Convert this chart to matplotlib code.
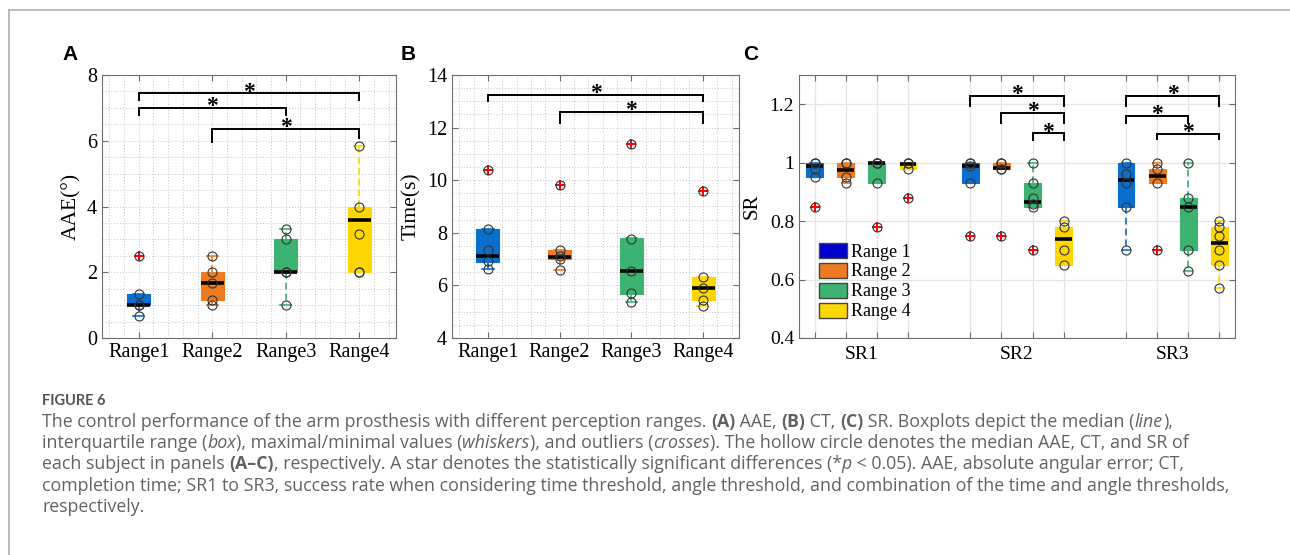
import matplotlib
matplotlib.use('Agg')
import matplotlib.pyplot as plt
import matplotlib.patches as mpatches
from matplotlib.lines import Line2D
from matplotlib.ticker import MultipleLocator, FixedLocator, NullFormatter

SERIF = 'Liberation Serif'

# ---- Panel A: AAE (deg) ----
range_names = ['Range1', 'Range2', 'Range3', 'Range4']
aae_q1 = [0.99, 1.15, 2.0, 2.0]
aae_med = [1.0, 1.67, 2.0, 3.58]
aae_q3 = [1.35, 2.0, 3.0, 4.0]
aae_lo = [0.67, 1.0, 1.0, 2.0]
aae_hi = [1.35, 2.5, 3.33, 5.83]
aae_out = [[2.5], [], [], []]
aae_subj = [[0.67, 1.0, 1.0, 1.35, 2.5], [1.0, 1.17, 1.67, 2.0, 2.5],
            [1.0, 2.0, 2.0, 3.0, 3.33], [2.0, 2.0, 3.17, 4.0, 5.83]]
aae_sig = [(1, 4, 7.44, 0.2, 0.2), (1, 3, 7.0, 0.22, 0.22), (2, 4, 6.35, 0.38, 0.27)]

# ---- Panel B: completion time (s) ----
ct_q1 = [6.9, 7.0, 5.67, 5.43]
ct_med = [7.13, 7.08, 6.53, 5.9]
ct_q3 = [8.13, 7.35, 7.8, 6.33]
ct_lo = [6.63, 6.6, 5.35, 5.2]
ct_hi = [8.13, 7.35, 7.8, 6.33]
ct_out = [[10.37], [9.83], [11.37], [9.58]]
ct_subj = [[6.63, 6.93, 7.35, 8.13, 10.37], [6.6, 7.0, 7.1, 7.33, 9.83],
           [5.35, 5.7, 6.53, 7.78, 11.37], [5.2, 5.45, 5.9, 6.33, 9.58]]
ct_sig = [(1, 4, 13.24, 0.23, 0.23), (2, 4, 12.61, 0.45, 0.45)]

# ---- Panel C: success rate ----
sr_groups = ['SR1', 'SR2', 'SR3']
sr_pos = [1, 2, 3, 4, 6, 7, 8, 9, 11, 12, 13, 14]
sr_q1 = [0.95, 0.95, 0.93, 0.977, 0.93, 0.977, 0.85, 0.65, 0.85, 0.93, 0.70, 0.65]
sr_med = [0.99, 0.975, 1.0, 0.997, 0.99, 0.982, 0.865, 0.74, 0.94, 0.955, 0.85, 0.725]
sr_q3 = [1.0, 1.0, 1.0, 1.0, 1.0, 1.0, 0.93, 0.78, 1.0, 0.98, 0.88, 0.78]
sr_lo = [0.95, 0.93, 0.93, 0.977, 0.93, 0.977, 0.85, 0.65, 0.70, 0.93, 0.63, 0.57]
sr_hi = [1.0, 1.0, 1.0, 1.0, 1.0, 1.0, 1.0, 0.80, 1.0, 1.0, 1.0, 0.80]
sr_out = [[0.85], [], [0.78], [0.88], [0.75], [0.75], [0.70], [], [], [0.70], [], []]
sr_subj = [[0.85, 0.95, 0.98, 1.0, 1.0], [0.93, 0.95, 1.0, 1.0], [0.78, 0.93, 1.0, 1.0, 1.0],
           [0.88, 0.98, 1.0, 1.0], [0.75, 0.93, 0.99, 1.0, 1.0], [0.75, 0.98, 0.98, 1.0, 1.0],
           [0.70, 0.85, 0.86, 0.88, 0.93, 1.0], [0.65, 0.70, 0.78, 0.80],
           [0.70, 0.85, 0.93, 0.96, 1.0], [0.70, 0.93, 0.98, 1.0],
           [0.63, 0.70, 0.85, 0.88, 1.0], [0.57, 0.65, 0.70, 0.75, 0.78, 0.80]]
sr_sig = [(6, 9, 1.229, 0.034, 0.034), (7, 9, 1.171, 0.034, 0.034), (8, 9, 1.10, 0.022, 0.022),
          (11, 14, 1.229, 0.034, 0.034), (11, 13, 1.16, 0.025, 0.025), (12, 14, 1.097, 0.016, 0.016)]
legend_labels = ['Range 1', 'Range 2', 'Range 3', 'Range 4']

box_colors = ['#0A6FCC', '#EE7A22', '#3CB371', '#FFD700']
legend_colors = ['#0000CD', '#EE7A22', '#3CB371', '#FFD700']


def draw_boxes(ax, pos, q1, med, q3, lo, hi, outs, subj, width):
    stats = [dict(q1=a, med=m, q3=b, whislo=l, whishi=h, fliers=o)
             for a, m, b, l, h, o in zip(q1, med, q3, lo, hi, outs)]
    bp = ax.bxp(stats, positions=pos, widths=width, capwidths=width * 0.5,
                patch_artist=True, manage_ticks=False)
    for i, box in enumerate(bp['boxes']):
        c = box_colors[i % 4]
        box.set_facecolor(c)
        box.set_edgecolor(c)
        box.set_linewidth(0.8)
        for ln in bp['whiskers'][2 * i:2 * i + 2]:
            ln.set_color(c)
            ln.set_linestyle((0, (4, 2.5)))
            ln.set_linewidth(1.2)
        for ln in bp['caps'][2 * i:2 * i + 2]:
            ln.set_color(c)
            ln.set_linewidth(1.2)
        bp['medians'][i].set_color('black')
        bp['medians'][i].set_linewidth(2.6)
        fl = bp['fliers'][i]
        fl.set_marker('+')
        fl.set_markeredgecolor('red')
        fl.set_markersize(7)
        fl.set_markeredgewidth(1.4)
    for p, s in zip(pos, subj):
        ax.plot([p] * len(s), s, 'o', mfc='none', mec='#333333', ms=6.5, mew=0.8, zorder=6)


def draw_sig(ax, sig):
    for x1, x2, y, l1, l2 in sig:
        ax.plot([x1, x1, x2, x2], [y - l1, y, y, y - l2], color='black', lw=1.4,
                solid_joinstyle='miter', zorder=7)
        ax.annotate('*', xy=((x1 + x2) / 2, y), xytext=(0, -3), textcoords='offset points',
                    ha='center', va='baseline', fontsize=17, fontweight='bold', family=SERIF,
                    zorder=7)


def style_axes(ax):
    for sp in ax.spines.values():
        sp.set_color('#6e6e6e')
        sp.set_linewidth(0.8)
    ax.tick_params(which='both', direction='in', top=True, right=True, color='#6e6e6e',
                   labelsize=14.5, length=4)
    ax.tick_params(which='minor', length=0)
    for lab in ax.get_xticklabels() + ax.get_yticklabels():
        lab.set_family(SERIF)
    ax.set_axisbelow(True)


fig = plt.figure(figsize=(12.9, 5.55), dpi=100)
W, H = 1290, 555


def axes_px(left, right, top, bottom):
    return fig.add_axes([left / W, 1 - bottom / H, (right - left) / W, (bottom - top) / H])


# Panel A
axA = axes_px(102, 396, 75, 338)
draw_boxes(axA, [1, 2, 3, 4], aae_q1, aae_med, aae_q3, aae_lo, aae_hi, aae_out, aae_subj, 0.31)
draw_sig(axA, aae_sig)
axA.set_xlim(0.5, 4.5)
axA.set_ylim(0, 8)
axA.set_xticks([1, 2, 3, 4])
axA.set_xticklabels(range_names)
axA.set_yticks([0, 2, 4, 6, 8])
axA.xaxis.set_minor_locator(MultipleLocator(0.2))
axA.yaxis.set_minor_locator(MultipleLocator(0.5))
axA.grid(which='both', linestyle=(0, (1, 2)), color='#c4c4c4', lw=0.7)
axA.set_ylabel('AAE(°)', family=SERIF, fontsize=15.5, labelpad=4)
style_axes(axA)

# Panel B
axB = axes_px(452, 739, 75, 338)
draw_boxes(axB, [1, 2, 3, 4], ct_q1, ct_med, ct_q3, ct_lo, ct_hi, ct_out, ct_subj, 0.32)
draw_sig(axB, ct_sig)
axB.set_xlim(0.5, 4.5)
axB.set_ylim(4, 14)
axB.set_xticks([1, 2, 3, 4])
axB.set_xticklabels(range_names)
axB.set_yticks([4, 6, 8, 10, 12, 14])
axB.xaxis.set_minor_locator(MultipleLocator(0.2))
axB.yaxis.set_minor_locator(MultipleLocator(0.5))
axB.grid(which='both', linestyle=(0, (1, 2)), color='#c4c4c4', lw=0.7)
axB.set_ylabel('Time(s)', family=SERIF, fontsize=15.5, labelpad=4)
style_axes(axB)

# Panel C
axC = axes_px(799, 1235, 75, 338)
draw_boxes(axC, sr_pos, sr_q1, sr_med, sr_q3, sr_lo, sr_hi, sr_out, sr_subj, 0.54)
draw_sig(axC, sr_sig)
axC.set_xlim(0.5, 14.5)
axC.set_ylim(0.4, 1.3)
axC.set_xticks(sr_pos)
axC.xaxis.set_major_formatter(NullFormatter())
axC.xaxis.set_minor_locator(FixedLocator([2.5, 7.5, 12.5]))
axC.set_xticklabels(sr_groups, minor=True)
axC.set_yticks([0.4, 0.6, 0.8, 1.0, 1.2])
axC.set_yticklabels(['0.4', '0.6', '0.8', '1', '1.2'])
axC.grid(which='major', linestyle='-', color='#e4e4e4', lw=0.9)
axC.set_ylabel('SR', family=SERIF, fontsize=15, labelpad=6)
style_axes(axC)
axC.tick_params(axis='y', labelsize=14)
axC.tick_params(axis='x', which='minor', labelsize=14, pad=6)
for lab in axC.get_xticklabels(minor=True):
    lab.set_family(SERIF)
handles = [mpatches.Patch(facecolor=c, edgecolor='#444444', lw=1.0) for c in legend_colors]
axC.legend(handles, legend_labels, loc='lower left', bbox_to_anchor=(0.03, 0.04), frameon=False,
           prop={'family': SERIF, 'size': 13}, handlelength=1.55, handleheight=0.9,
           handletextpad=0.2, labelspacing=0.12, borderaxespad=0.0)

# panel letters
for letter, xp in [('A', 70), ('B', 408), ('C', 751)]:
    fig.text(xp / W, 1 - 54 / H, letter, fontsize=15, fontweight='bold', family='Liberation Sans',
             ha='center', va='center')

# page frame
fig.add_artist(Line2D([9 / W, 1], [1 - 10 / H] * 2, transform=fig.transFigure, color='#b0b0b0', lw=1.2))
fig.add_artist(Line2D([9 / W, 9 / W], [0, 1 - 10 / H], transform=fig.transFigure, color='#b0b0b0', lw=1.2))

# caption
CAP = 'Open Sans'
CAP_SIZE = 12.8
cap_color = '#626262'
fig.text(42 / W, 1 - 405 / H, 'FIGURE 6', fontsize=10.5, fontweight='bold', family='Lato',
         color='#555555', va='baseline')

caption_lines = [
    [('The control performance of the arm prosthesis with different perception ranges. ', 'n'),
     ('(A)', 'b'), (' AAE, ', 'n'), ('(B)', 'b'), (' CT, ', 'n'), ('(C)', 'b'),
     (' SR. Boxplots depict the median (', 'n'), ('line', 'i'), ('),', 'n')],
    [('interquartile range (', 'n'), ('box', 'i'), ('), maximal/minimal values (', 'n'),
     ('whiskers', 'i'), ('), and outliers (', 'n'), ('crosses', 'i'),
     ('). The hollow circle denotes the median AAE, CT, and SR of', 'n')],
    [('each subject in panels ', 'n'), ('(A\u2013C)', 'b'),
     (', respectively. A star denotes the statistically significant differences (*', 'n'),
     ('p', 'i'), (' < 0.05). AAE, absolute angular error; CT,', 'n')],
    [('completion time; SR1 to SR3, success rate when considering time threshold, angle threshold, '
      'and combination of the time and angle thresholds,', 'n')],
    [('respectively.', 'n')],
]
line_y = [427, 448, 469, 491, 512]

renderer = fig.canvas.get_renderer()


def seg_width(txt, kw):
    t1 = fig.text(0, 0, '|' + txt + '|', **kw)
    t2 = fig.text(0, 0, '||', **kw)
    w = t1.get_window_extent(renderer).width - t2.get_window_extent(renderer).width
    t1.remove()
    t2.remove()
    return w


for segs, yb in zip(caption_lines, line_y):
    x = 42.0
    for txt, st in segs:
        kw = dict(fontsize=CAP_SIZE, family=CAP, color=cap_color, va='baseline',
                  fontweight='bold' if st == 'b' else 'normal',
                  fontstyle='italic' if st == 'i' else 'normal')
        fig.text(x / W, 1 - yb / H, txt, **kw)
        x += seg_width(txt, kw)

fig.savefig('out.png', dpi=100)
